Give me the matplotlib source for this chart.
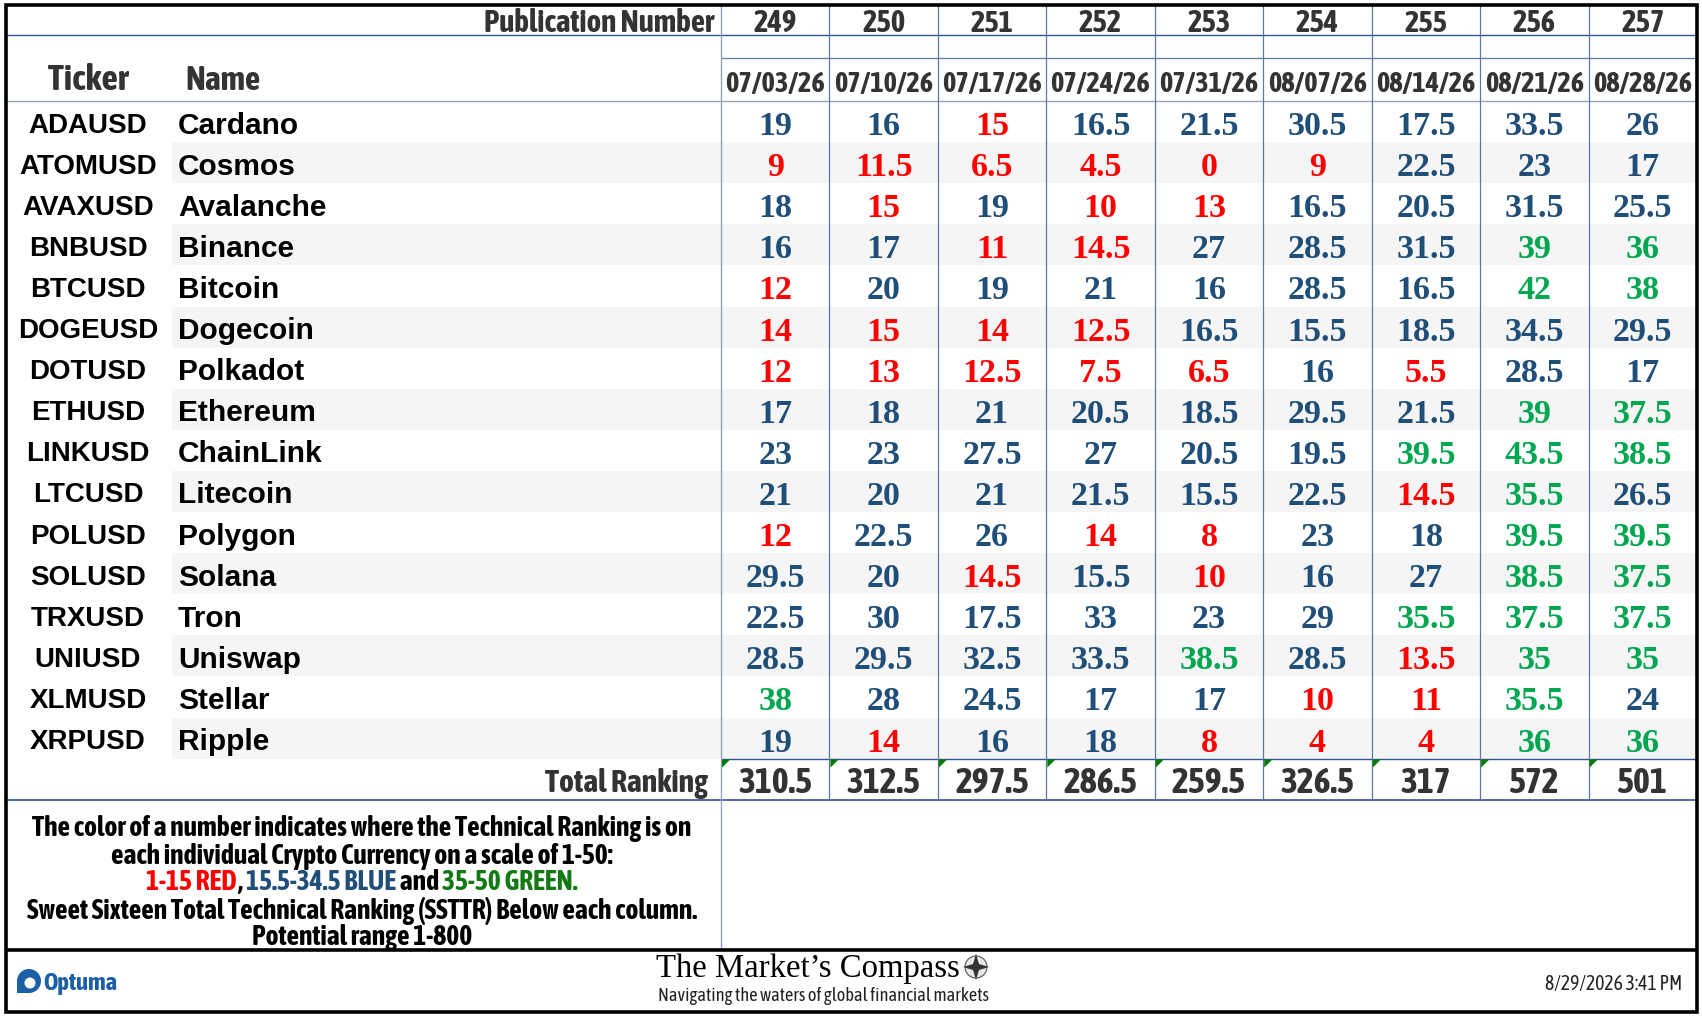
import matplotlib
matplotlib.use("Agg")
import matplotlib.pyplot as plt
from matplotlib import font_manager
from matplotlib.patches import Polygon, Rectangle, Circle

# ---- data ----
tickers = ["ADAUSD", "ATOMUSD", "AVAXUSD", "BNBUSD", "BTCUSD", "DOGEUSD",
           "DOTUSD", "ETHUSD", "LINKUSD", "LTCUSD", "POLUSD", "SOLUSD",
           "TRXUSD", "UNIUSD", "XLMUSD", "XRPUSD"]
names = ["Cardano", "Cosmos", "Avalanche", "Binance", "Bitcoin", "Dogecoin",
         "Polkadot", "Ethereum", "ChainLink", "Litecoin", "Polygon", "Solana",
         "Tron", "Uniswap", "Stellar", "Ripple"]
pub_numbers = [249, 250, 251, 252, 253, 254, 255, 256, 257]
pub_dates = ["07/03/26", "07/10/26", "07/17/26", "07/24/26", "07/31/26",
             "08/07/26", "08/14/26", "08/21/26", "08/28/26"]
rankings = [
    [19, 16, 15, 16.5, 21.5, 30.5, 17.5, 33.5, 26],
    [9, 11.5, 6.5, 4.5, 0, 9, 22.5, 23, 17],
    [18, 15, 19, 10, 13, 16.5, 20.5, 31.5, 25.5],
    [16, 17, 11, 14.5, 27, 28.5, 31.5, 39, 36],
    [12, 20, 19, 21, 16, 28.5, 16.5, 42, 38],
    [14, 15, 14, 12.5, 16.5, 15.5, 18.5, 34.5, 29.5],
    [12, 13, 12.5, 7.5, 6.5, 16, 5.5, 28.5, 17],
    [17, 18, 21, 20.5, 18.5, 29.5, 21.5, 39, 37.5],
    [23, 23, 27.5, 27, 20.5, 19.5, 39.5, 43.5, 38.5],
    [21, 20, 21, 21.5, 15.5, 22.5, 14.5, 35.5, 26.5],
    [12, 22.5, 26, 14, 8, 23, 18, 39.5, 39.5],
    [29.5, 20, 14.5, 15.5, 10, 16, 27, 38.5, 37.5],
    [22.5, 30, 17.5, 33, 23, 29, 35.5, 37.5, 37.5],
    [28.5, 29.5, 32.5, 33.5, 38.5, 28.5, 13.5, 35, 35],
    [38, 28, 24.5, 17, 17, 10, 11, 35.5, 24],
    [19, 14, 16, 18, 8, 4, 4, 36, 36],
]
totals = [310.5, 312.5, 297.5, 286.5, 259.5, 326.5, 317, 572, 501]

# ---- styling ----
RED = "#ff0000"
BLUE = "#1f4e79"
GREEN = "#00a650"
NOTE_GREEN = "#137a13"
HEAD = "#333333"
GRID = "#5b7aa3"
SHADE = "#f5f5f5"

SANS = ["Liberation Sans", "DejaVu Sans"]
SERIF = ["Liberation Serif", "DejaVu Serif"]
_fl = font_manager.fontManager.ttflist
_cond = [f for f in _fl if "Narrow" in f.name or "Condensed" in f.name]
_cond_bold = [f.name for f in _cond
              if (f.weight == "bold" or (isinstance(f.weight, int) and f.weight >= 600))]
_cond_names = sorted({f.name for f in _cond})
NARROW_B = ([_cond_bold[0]] if _cond_bold else []) + SANS
NARROW = ([_cond_bold[0]] if _cond_bold else _cond_names[:1]) + SANS


def fmt(v):
    return f"{int(v)}" if float(v).is_integer() else f"{v:.1f}"


def rank_color(v):
    if v <= 15:
        return RED
    if v < 35:
        return BLUE
    return GREEN


W, H = 1702, 1020
fig = plt.figure(figsize=(W / 100, H / 100), dpi=100)
ax = fig.add_axes([0, 0, 1, 1])
ax.set_xlim(0, W)
ax.set_ylim(H, 0)
ax.axis("off")
renderer = fig.canvas.get_renderer()


def fit(t, width):
    """shrink/grow a text so its rendered width matches the reference"""
    w = t.get_window_extent(renderer).width
    t.set_fontsize(t.get_fontsize() * width / w)
    return t


# geometry (pixels)
L, R, T, B = 6, 1697, 6, 1013
x_data = 721
col_w = (R - x_data) / len(pub_numbers)
y_pub = 36
y_sub = 59
y_head = 102
row_h = 41.1
y_rows_end = y_head + row_h * len(tickers)
y_total = 801
y_foot = 951

# row shading
for i in range(len(tickers)):
    if i % 2 == 1:
        ax.add_patch(Rectangle((172, y_head + i * row_h), R - 172, row_h,
                               facecolor=SHADE, edgecolor="none", zorder=0))

# grid lines
ax.hlines(y_pub, L, R, color="#2f5597", lw=1.0, zorder=2)
ax.hlines(y_sub, x_data, R, color=GRID, lw=0.9, zorder=2)
ax.hlines(y_head, L, R, color="#9aa7b8", lw=1.0, zorder=2)
ax.hlines(y_rows_end, x_data, R, color="#2f5597", lw=1.0, zorder=2)
ax.hlines(y_total, L, R, color="#2f5597", lw=1.2, zorder=2)
ax.vlines(x_data, T, y_foot, color="#8fa3bd", lw=1.0, zorder=2)
for j in range(1, len(pub_numbers)):
    ax.vlines(x_data + j * col_w, T, y_total, color=GRID, lw=0.9, zorder=2)
ax.hlines(y_foot, L, R, color="black", lw=2.6, zorder=3)
ax.add_patch(Rectangle((L, T), R - L, B - T, fill=False, edgecolor="black",
                       lw=2.6, zorder=4))

# header
hk = dict(family=NARROW_B, weight="bold", color=HEAD, va="center", fontsize=20)
fit(ax.text(714, 24, "Publication Number", ha="right", **hk), 230)
fit(ax.text(88, 80, "Ticker", ha="center", **hk), 80)
fit(ax.text(185, 80, "Name", ha="left", **hk), 75)
for j, (p, d) in enumerate(zip(pub_numbers, pub_dates)):
    cx = x_data + (j + 0.5) * col_w
    fit(ax.text(cx, 24, str(p), ha="center", **hk), 43)
    fit(ax.text(cx, 84, d, ha="center", **hk), 99)

# body
for i, (tk, nm, vals) in enumerate(zip(tickers, names, rankings)):
    cy = y_head + (i + 0.5) * row_h + 3
    ax.text(88, cy, tk, ha="center", va="center", family=SANS,
            weight="bold", fontsize=20, color="black")
    ax.text(178, cy, nm, ha="left", va="center", family=SANS,
            weight="bold", fontsize=21.5, color="black")
    for j, v in enumerate(vals):
        cx = x_data + (j + 0.5) * col_w
        ax.text(cx, cy + 1, fmt(v), ha="center", va="center", family=SERIF,
                weight="bold", fontsize=24.5, color=rank_color(v))

# total row
cy_tot = (y_rows_end + y_total) / 2 + 3
fit(ax.text(708, cy_tot, "Total Ranking", ha="right", **hk), 162)
tot_size = None
for j, t in enumerate(totals):
    x0 = x_data + j * col_w
    tt = ax.text(x0 + col_w / 2, cy_tot, fmt(t), ha="center", **hk)
    if tot_size is None:
        fit(tt, 74)
        tot_size = tt.get_fontsize()
    tt.set_fontsize(tot_size)
    ax.add_patch(Polygon([(x0 + 1, y_rows_end + 1), (x0 + 9, y_rows_end + 1),
                          (x0 + 1, y_rows_end + 9)], closed=True,
                         facecolor="#007a00", edgecolor="none", zorder=3))

# notes
note_kw = dict(family=NARROW_B, weight="bold", fontsize=17, va="center")
n1 = ax.text(362, 829, "The color of a number indicates where the Technical Ranking is on",
             ha="center", color="black", **note_kw)
fit(n1, 662)
note_kw["fontsize"] = n1.get_fontsize()
ax.text(362, 856.5, "each individual Crypto Currency on a scale of 1-50:",
        ha="center", color="black", **note_kw)
ax.text(362, 911, "Sweet Sixteen Total Technical Ranking (SSTTR) Below each column.",
        ha="center", color="black", **note_kw)
ax.text(362, 938, "Potential range 1-800", ha="center", color="black", **note_kw)

parts = [("1-15 RED", RED), (", ", "black"), ("15.5-34.5 BLUE", BLUE),
         (" and ", "black"), ("35-50 GREEN.", NOTE_GREEN)]
pieces = [ax.text(0, 883, s, ha="left", color=c, **note_kw) for s, c in parts]
widths = [p.get_window_extent(renderer).width for p in pieces]
x = 362 - sum(widths) / 2
for p, w in zip(pieces, widths):
    p.set_x(x)
    x += w

# footer
ax.add_patch(Circle((29, 982), 12, facecolor="#1b5fa6", edgecolor="none", zorder=3))
ax.add_patch(Rectangle((17, 982), 12, 12, facecolor="#1b5fa6", edgecolor="none", zorder=3))
ax.add_patch(Circle((30, 984), 5.5, facecolor="white", edgecolor="none", zorder=4))
fit(ax.text(43, 984, "Optuma", ha="left", va="center", family=NARROW_B,
            fontsize=16, color="#1b5fa6", weight="bold"), 74)

fit(ax.text(656, 969, "The Market\u2019s Compass", ha="left", va="center",
            family=SERIF, fontsize=24, color="black"), 304)
ax.add_patch(Circle((976, 968), 11, facecolor="#e8e8e8", edgecolor="#555555",
                    lw=0.8, zorder=3))
ax.add_patch(Polygon([(976, 955), (979, 965), (989, 968), (979, 971), (976, 981),
                      (973, 971), (963, 968), (973, 965)], closed=True,
                     facecolor="#333333", edgecolor="none", zorder=4))
fit(ax.text(658, 996, "Navigating the waters of global financial markets", ha="left",
            va="center", family=NARROW, weight="normal", fontsize=15,
            color="#222222"), 333)

fit(ax.text(1682, 984, "8/29/2026 3:41 PM", ha="right", va="center", family=NARROW,
            weight="normal", fontsize=15, color="#222222"), 138)

fig.savefig("out.png", dpi=100, facecolor="white")
